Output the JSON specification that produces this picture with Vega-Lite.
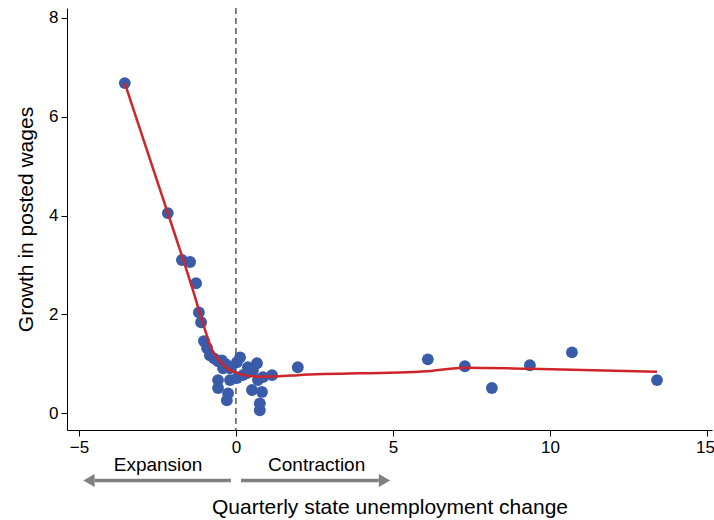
{
  "$schema": "https://vega.github.io/schema/vega-lite/v6.json",
  "width": 645,
  "height": 422,
  "autosize": {"type": "none"},
  "padding": {"left": 67, "top": 8, "right": 2, "bottom": 90},
  "background": "white",
  "config": {
    "view": {"stroke": null},
    "font": "Liberation Sans",
    "axis": {
      "grid": false,
      "domainColor": "#000000",
      "tickColor": "#000000",
      "labelColor": "#000000",
      "titleColor": "#000000",
      "labelFont": "Liberation Sans",
      "titleFont": "Liberation Sans",
      "labelFontSize": 17,
      "titleFontSize": 21,
      "titleFontWeight": "normal",
      "tickSize": 6,
      "domainWidth": 1,
      "tickWidth": 1
    }
  },
  "datasets": {
    "pts": [
      {"x": -3.54, "y": 6.68}, {"x": -2.17, "y": 4.05}, {"x": -1.72, "y": 3.10}, {"x": -1.46, "y": 3.06},
      {"x": -1.27, "y": 2.63}, {"x": -1.18, "y": 2.04}, {"x": -1.11, "y": 1.84}, {"x": -1.02, "y": 1.46},
      {"x": -0.92, "y": 1.32}, {"x": -0.83, "y": 1.17}, {"x": -0.70, "y": 1.11}, {"x": -0.57, "y": 1.05},
      {"x": -0.45, "y": 1.07}, {"x": -0.32, "y": 0.99}, {"x": -0.41, "y": 0.91}, {"x": -0.19, "y": 0.91},
      {"x": 0.03, "y": 1.03}, {"x": 0.13, "y": 1.13}, {"x": 0.38, "y": 0.93}, {"x": 0.54, "y": 0.87},
      {"x": 0.67, "y": 1.01}, {"x": 0.35, "y": 0.81}, {"x": 0.03, "y": 0.71}, {"x": -0.19, "y": 0.67},
      {"x": -0.57, "y": 0.67}, {"x": -0.57, "y": 0.51}, {"x": -0.25, "y": 0.40}, {"x": -0.29, "y": 0.26},
      {"x": 0.51, "y": 0.47}, {"x": 0.83, "y": 0.43}, {"x": 1.15, "y": 0.77}, {"x": 0.86, "y": 0.73},
      {"x": 0.70, "y": 0.67}, {"x": 0.76, "y": 0.20}, {"x": 0.76, "y": 0.06}, {"x": 0.22, "y": 0.77},
      {"x": 1.97, "y": 0.93}, {"x": 6.11, "y": 1.09}, {"x": 7.29, "y": 0.95}, {"x": 8.15, "y": 0.51},
      {"x": 9.36, "y": 0.97}, {"x": 10.70, "y": 1.23}, {"x": 13.41, "y": 0.67}
    ],
    "fit": [
      {"x": -3.54, "y": 6.68}, {"x": -2.17, "y": 4.05}, {"x": -1.78, "y": 3.30}, {"x": -1.37, "y": 2.49},
      {"x": -1.05, "y": 1.82}, {"x": -0.76, "y": 1.28}, {"x": -0.45, "y": 1.01}, {"x": -0.19, "y": 0.87},
      {"x": 0.0, "y": 0.83}, {"x": 0.13, "y": 0.79}, {"x": 0.67, "y": 0.74}, {"x": 1.40, "y": 0.75},
      {"x": 1.97, "y": 0.77}, {"x": 6.11, "y": 0.85}, {"x": 7.29, "y": 0.92}, {"x": 9.36, "y": 0.90},
      {"x": 13.41, "y": 0.84}
    ],
    "labels": [
      {"x": -2.48, "y": -1.05, "t": "Expansion"},
      {"x": 2.57, "y": -1.05, "t": "Contraction"}
    ],
    "shafts": [
      {"x": -0.16, "x2": -4.5, "y": -1.36},
      {"x": 0.16, "x2": 4.55, "y": -1.36}
    ],
    "heads": [
      {"x": -4.68, "y": -1.36, "s": "left"},
      {"x": 4.73, "y": -1.36, "s": "right"}
    ],
    "zero": [{"x": 0}]
  },
  "layer": [
    {
      "data": {"name": "zero"},
      "mark": {"type": "rule", "color": "#000000", "strokeWidth": 1, "strokeDash": [6, 4]},
      "encoding": {
        "x": {
          "field": "x", "type": "quantitative",
          "scale": {"domain": [-5.38, 15.16], "nice": false, "zero": false},
          "axis": {
            "values": [-5, 0, 5, 10, 15], "format": "d",
            "title": "Quarterly state unemployment change",
            "labelPadding": 3, "titlePadding": 41,
            "labelOffset": {"condition": {"test": "datum.value == 15", "value": -2}, "value": 0}
          }
        }
      }
    },
    {
      "data": {"name": "pts"},
      "mark": {"type": "point", "filled": true, "size": 140, "color": "#3a5ba8", "opacity": 1},
      "encoding": {
        "x": {"field": "x", "type": "quantitative"},
        "y": {
          "field": "y", "type": "quantitative",
          "scale": {"domain": [-0.34, 8.2], "nice": false, "zero": false},
          "axis": {
            "values": [0, 2, 4, 6, 8], "format": "d",
            "title": "Growth in posted wages",
            "labelPadding": 3, "titlePadding": 12
          }
        }
      }
    },
    {
      "data": {"name": "fit"},
      "mark": {"type": "line", "color": "#d0242b", "strokeWidth": 2.5, "interpolate": "monotone"},
      "encoding": {
        "x": {"field": "x", "type": "quantitative"},
        "y": {"field": "y", "type": "quantitative"}
      }
    },
    {
      "data": {"name": "labels"},
      "mark": {"type": "text", "fontSize": 19, "color": "#000000", "baseline": "middle", "align": "center"},
      "encoding": {
        "x": {"field": "x", "type": "quantitative"},
        "y": {"field": "y", "type": "quantitative"},
        "text": {"field": "t"}
      }
    },
    {
      "data": {"name": "shafts"},
      "mark": {"type": "rule", "color": "#808080", "strokeWidth": 3.5},
      "encoding": {
        "x": {"field": "x", "type": "quantitative"},
        "x2": {"field": "x2"},
        "y": {"field": "y", "type": "quantitative"}
      }
    },
    {
      "data": {"name": "heads"},
      "mark": {"type": "point", "filled": true, "color": "#808080", "opacity": 1, "size": 170},
      "encoding": {
        "x": {"field": "x", "type": "quantitative"},
        "y": {"field": "y", "type": "quantitative"},
        "shape": {
          "field": "s", "type": "nominal",
          "scale": {"domain": ["left", "right"], "range": ["triangle-left", "triangle-right"]},
          "legend": null
        }
      }
    }
  ]
}
